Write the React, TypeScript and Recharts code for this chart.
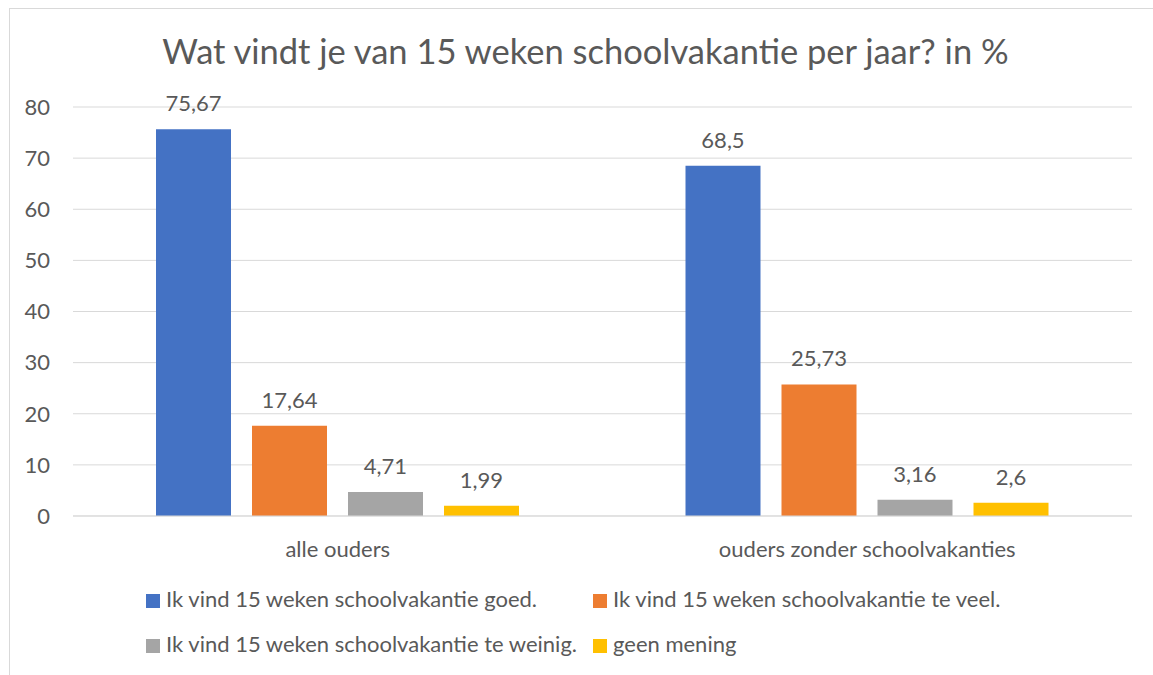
import React from "react";
import {
  BarChart,
  Bar,
  XAxis,
  YAxis,
  CartesianGrid,
  LabelList,
} from "recharts";

const categories = ["alle ouders", "ouders zonder schoolvakanties"];
const goed = [75.67, 68.5];
const teVeel = [17.64, 25.73];
const teWeinig = [4.71, 3.16];
const geenMening = [1.99, 2.6];
const yTicks = [0, 10, 20, 30, 40, 50, 60, 70, 80];

const series = [
  { key: "goed", name: "Ik vind 15 weken schoolvakantie goed.", color: "#4472C4", values: goed },
  { key: "teVeel", name: "Ik vind 15 weken schoolvakantie te veel.", color: "#ED7D31", values: teVeel },
  { key: "teWeinig", name: "Ik vind 15 weken schoolvakantie te weinig.", color: "#A5A5A5", values: teWeinig },
  { key: "geen", name: "geen mening", color: "#FFC000", values: geenMening },
];

const FONT = "Lato, 'Open Sans', sans-serif";
const TEXT = "#595959";

const fmt = (v: number) => String(v).replace(".", ",");

// legend slots: two columns, two rows
const legendPos = [
  { left: 146, top: 588 },
  { left: 593, top: 588 },
  { left: 146, top: 633 },
  { left: 593, top: 633 },
];

export default function App() {
  const data = categories.map((c, i) => {
    const row: Record<string, string | number> = { category: c };
    series.forEach((s) => (row[s.key] = s.values[i]));
    return row;
  });

  return (
    <div style={{ position: "relative", width: 1153, height: 675, overflow: "hidden", fontFamily: FONT }}>
      <style>{`body{margin:0;overflow:hidden}`}</style>

      {/* chart frame, only top/left edges visible */}
      <div
        style={{
          position: "absolute",
          left: 9,
          top: 8,
          width: 1200,
          height: 700,
          borderTop: "1px solid #d9d9d9",
          borderLeft: "1px solid #d9d9d9",
        }}
      />

      <div
        style={{
          position: "absolute",
          left: 0,
          top: 34,
          width: 1171,
          textAlign: "center",
          fontSize: 34.5,
          lineHeight: "34.5px",
          color: TEXT,
        }}
      >
        Wat vindt je van 15 weken schoolvakantie per jaar? in %
      </div>

      <div style={{ position: "absolute", left: 0, top: 0 }}>
        <BarChart
          width={1153}
          height={675}
          data={data}
          margin={{ top: 107, right: 21, bottom: 99, left: 0 }}
          barSize={75}
          barGap={21}
        >
          <CartesianGrid vertical={false} stroke="#d9d9d9" />
          <XAxis
            dataKey="category"
            height={60}
            axisLine={{ stroke: "#d9d9d9" }}
            tickLine={false}
            tickMargin={19}
            tick={{ fill: TEXT, fontSize: 22, fontFamily: FONT }}
          />
          <YAxis
            width={73}
            domain={[0, 80]}
            ticks={yTicks}
            axisLine={false}
            tickLine={false}
            tickMargin={17}
            tick={{ fill: TEXT, fontSize: 22, fontFamily: FONT }}
          />
          {series.map((s) => (
            <Bar key={s.key} dataKey={s.key} name={s.name} fill={s.color} isAnimationActive={false}>
              <LabelList
                dataKey={s.key}
                position="top"
                offset={18}
                formatter={(v: any) => fmt(v)}
                style={{ fill: TEXT, fontSize: 22, fontFamily: FONT }}
              />
            </Bar>
          ))}
        </BarChart>
      </div>

      {series.map((s, i) => (
        <div
          key={s.key}
          style={{
            position: "absolute",
            left: legendPos[i].left,
            top: legendPos[i].top,
            display: "flex",
            alignItems: "flex-start",
            fontSize: 22,
            lineHeight: "22px",
            color: TEXT,
            whiteSpace: "nowrap",
          }}
        >
          <span style={{ display: "inline-block", width: 14, height: 14, background: s.color, marginRight: 6, marginTop: 6 }} />
          <span>{s.name}</span>
        </div>
      ))}
    </div>
  );
}
